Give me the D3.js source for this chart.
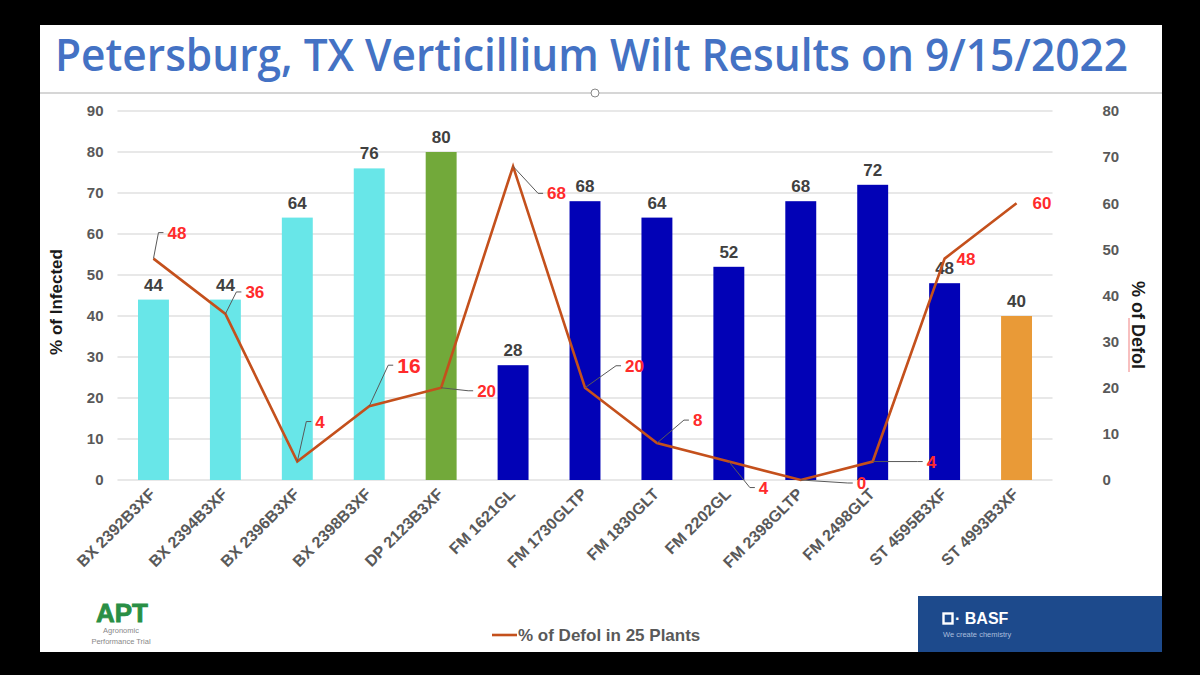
<!DOCTYPE html>
<html>
<head>
<meta charset="utf-8">
<script src="https://cdn.jsdelivr.net/npm/d3@7"></script>
<style>
  body { margin: 0; background: #000; }
  svg { display: block; }
  text { font-family: "Liberation Sans", Arial, sans-serif; }
</style>
</head>
<body>
<div id="chart"></div>
<script>
// chart data
const varieties = ["BX 2392B3XF", "BX 2394B3XF", "BX 2396B3XF", "BX 2398B3XF", "DP 2123B3XF",
    "FM 1621GL", "FM 1730GLTP", "FM 1830GLT", "FM 2202GL", "FM 2398GLTP", "FM 2498GLT",
    "ST 4595B3XF", "ST 4993B3XF"];
const infected = [44, 44, 64, 76, 80, 28, 68, 64, 52, 68, 72, 48, 40];
const defol = [48, 36, 4, 16, 20, 68, 20, 8, 4, 0, 4, 48, 60];
const brand = ["BX", "BX", "BX", "BX", "DP", "FM", "FM", "FM", "FM", "FM", "FM", "FM", "ST"];
const leftTicks = [0, 10, 20, 30, 40, 50, 60, 70, 80, 90];
const rightTicks = [0, 10, 20, 30, 40, 50, 60, 70, 80];

// bar colours by brand
const brandColor = {BX: "#68E6E8", DP: "#72A93A", FM: "#0202B6", ST: "#E99A37"};

// where each red defol label sits relative to its point (dx, dy); leader drawn when far enough
const labelOffset = [[14, -26], [20, -22], [18, -40], [28, -41], [36, 3], [34, 27], [40, -22],
    [36, -23], [30, 26], [56, 3], [54, 0], [12, 0], [16, 0]];

const W = 1200, H = 675;
const svg = d3.select("#chart").append("svg")
    .attr("width", W).attr("height", H);

// black frame + white slide
svg.append("rect").attr("width", W).attr("height", H).attr("fill", "#000");
svg.append("rect").attr("x", 40).attr("y", 25).attr("width", 1122).attr("height", 627).attr("fill", "#fff");

// title
svg.append("text")
    .attr("x", 55).attr("y", 71)
    .attr("textLength", 1073).attr("lengthAdjust", "spacingAndGlyphs")
    .style("font-family", "'Open Sans', sans-serif")
    .style("font-size", "45px").style("font-weight", 600)
    .attr("fill", "#4472C4")
    .text("Petersburg, TX Verticillium Wilt Results on 9/15/2022");

// text box edge + handle under title
svg.append("line").attr("x1", 40).attr("x2", 1162).attr("y1", 93).attr("y2", 93)
    .attr("stroke", "#c8c8c8").attr("stroke-width", 1.5);
svg.append("circle").attr("cx", 595).attr("cy", 93).attr("r", 4)
    .attr("fill", "#fff").attr("stroke", "#888").attr("stroke-width", 1);

const plot = {left: 117.5, right: 1052.5, top: 111, bottom: 480};

const x = d3.scaleBand()
    .domain(varieties)
    .range([plot.left, plot.right])
    .paddingInner(0.57).paddingOuter(0.285);

const yL = d3.scaleLinear().domain([0, 90]).range([plot.bottom, plot.top]);
const yR = d3.scaleLinear().domain([0, 80]).range([plot.bottom, plot.top]);
const cx = d => x(d) + x.bandwidth() / 2;

// gridlines
svg.append("g").selectAll("line")
    .data(leftTicks)
    .join("line")
    .attr("x1", plot.left).attr("x2", plot.right)
    .attr("y1", d => yL(d)).attr("y2", d => yL(d))
    .attr("stroke", "#e0e0e0").attr("stroke-width", 1.3);

// left axis
const leftAxis = svg.append("g")
    .attr("transform", "translate(" + (plot.left - 14) + ",0)")
    .call(d3.axisLeft(yL).tickValues(leftTicks).tickSize(0).tickPadding(0));
leftAxis.select(".domain").remove();
leftAxis.selectAll("text")
    .style("font-size", "15px").style("font-weight", "bold").attr("fill", "#595959");

// right axis
const rightAxis = svg.append("g")
    .attr("transform", "translate(" + (plot.right + 50) + ",0)")
    .call(d3.axisRight(yR).tickValues(rightTicks).tickSize(0).tickPadding(0));
rightAxis.select(".domain").remove();
rightAxis.selectAll("text")
    .style("font-size", "15px").style("font-weight", "bold").attr("fill", "#595959");

// axis titles
svg.append("text")
    .attr("transform", "translate(62,302) rotate(-90)")
    .attr("text-anchor", "middle")
    .style("font-size", "17px").style("font-weight", "bold").attr("fill", "#1a1a1a")
    .text("% of Infected");
svg.append("text")
    .attr("transform", "translate(1132,325) rotate(90)")
    .attr("text-anchor", "middle")
    .style("font-size", "18px").style("font-weight", "bold").attr("fill", "#1a1a1a")
    .text("% of Defol");
// spellcheck squiggle under "Defol"
svg.append("line").attr("x1", 1129).attr("x2", 1129).attr("y1", 318).attr("y2", 372)
    .attr("stroke", "#f08080").attr("stroke-width", 1);

// bars
svg.append("g").selectAll("rect")
    .data(varieties)
    .join("rect")
    .attr("x", d => x(d))
    .attr("width", x.bandwidth())
    .attr("y", (d, i) => yL(infected[i]))
    .attr("height", (d, i) => yL(0) - yL(infected[i]))
    .attr("fill", (d, i) => brandColor[brand[i]]);

// bar value labels
svg.append("g").selectAll("text")
    .data(varieties)
    .join("text")
    .attr("x", d => cx(d))
    .attr("y", (d, i) => yL(infected[i]) - 9)
    .attr("text-anchor", "middle")
    .style("font-size", "17px").style("font-weight", "bold").attr("fill", "#404040")
    .text((d, i) => infected[i]);

// x labels, rotated
svg.append("g").selectAll("text")
    .data(varieties)
    .join("text")
    .attr("transform", d => "translate(" + (cx(d) + 3) + ",495) rotate(-45)")
    .attr("text-anchor", "end")
    .style("font-size", "16px").style("font-weight", "bold").attr("fill", "#595959")
    .text(d => d);

// defol line
const line = d3.line()
    .x(d => cx(d))
    .y((d, i) => yR(defol[i]));
svg.append("path")
    .datum(varieties)
    .attr("d", line)
    .attr("fill", "none")
    .attr("stroke", "#C4501C")
    .attr("stroke-width", 2.6)
    .attr("stroke-linejoin", "miter");

// leader lines for the red labels
const pts = varieties.map((d, i) => ({px: cx(d), py: yR(defol[i]), dx: labelOffset[i][0], dy: labelOffset[i][1], v: defol[i]}));
svg.append("g").selectAll("path")
    .data(pts.filter(p => Math.hypot(p.dx, p.dy) > 20))
    .join("path")
    .attr("d", p => {
        const ex = p.px + p.dx - 4, ey = p.py + p.dy;
        const bx = ex - 5;
        return "M" + p.px + "," + p.py + "L" + bx + "," + ey + "L" + ex + "," + ey;
    })
    .attr("fill", "none").attr("stroke", "#595959").attr("stroke-width", 1);

svg.append("g").selectAll("text")
    .data(pts)
    .join("text")
    .attr("x", p => p.px + p.dx)
    .attr("y", p => p.py + p.dy)
    .attr("dy", "0.35em")
    .style("font-size", (p, i) => i === 3 ? "21px" : "17px")
    .style("font-weight", "bold")
    .attr("fill", "#FF2B2B")
    .text(p => p.v);

// legend
svg.append("line").attr("x1", 492).attr("x2", 517).attr("y1", 635).attr("y2", 635)
    .attr("stroke", "#C4501C").attr("stroke-width", 2.6);
svg.append("text").attr("x", 518).attr("y", 641)
    .style("font-size", "17px").style("font-weight", "bold").attr("fill", "#595959")
    .text("% of Defol in 25 Plants");

// APT logo
svg.append("text").attr("x", 122).attr("y", 622).attr("text-anchor", "middle")
    .attr("textLength", 52).attr("lengthAdjust", "spacingAndGlyphs")
    .style("font-size", "26px").style("font-weight", "bold")
    .attr("fill", "#2A8F45").attr("stroke", "#2A8F45").attr("stroke-width", 0.8)
    .text("APT");
svg.append("text").attr("x", 121).attr("y", 633).attr("text-anchor", "middle")
    .style("font-size", "7.5px").attr("fill", "#888").text("Agronomic");
svg.append("text").attr("x", 121).attr("y", 644).attr("text-anchor", "middle")
    .style("font-size", "7.5px").attr("fill", "#888").text("Performance Trial");

// BASF block
svg.append("rect").attr("x", 918).attr("y", 596).attr("width", 244).attr("height", 56).attr("fill", "#1D4A8C");
svg.append("rect").attr("x", 943.5).attr("y", 613.5).attr("width", 9).attr("height", 10)
    .attr("fill", "none").attr("stroke", "#fff").attr("stroke-width", 2.4);
svg.append("text").attr("x", 955).attr("y", 624)
    .style("font-size", "16px").style("font-weight", "bold").attr("fill", "#fff").text("· BASF");
svg.append("text").attr("x", 943).attr("y", 637)
    .style("font-size", "7.5px").attr("fill", "#a9bddc").text("We create chemistry");
</script>
</body>
</html>
